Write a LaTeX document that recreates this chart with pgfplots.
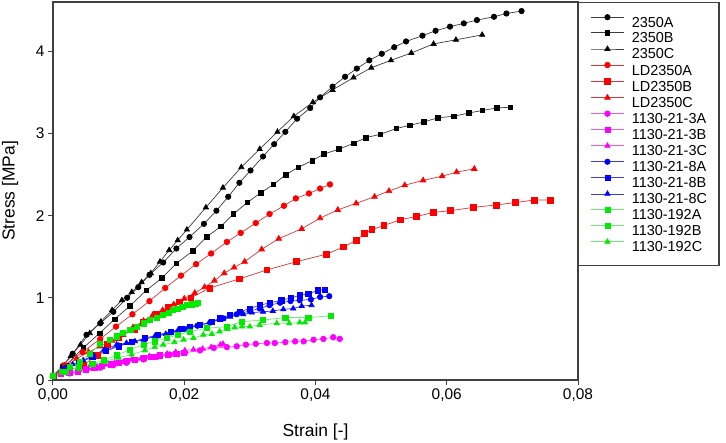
\documentclass[border=0pt]{standalone}
\usepackage{fontspec}
\setmainfont{Liberation Sans}
\usepackage{pgfplots}
\pgfplotsset{compat=1.18}
\definecolor{lnK}{RGB}{60,60,60}
\definecolor{lnR}{RGB}{215,55,55}
\definecolor{lnM}{RGB}{235,90,235}
\definecolor{lnB}{RGB}{60,60,210}
\definecolor{lnG}{RGB}{110,235,110}
\definecolor{mM}{RGB}{255,0,255}
\definecolor{mG}{RGB}{0,235,0}
\begin{document}
\begin{tikzpicture}
\begin{axis}[
  at={(0,0)}, anchor=south west,
  scale only axis, width=525bp, height=378bp,
  xmin=0, xmax=0.08, ymin=0, ymax=4.6,
  xtick={0,0.02,0.04,0.06,0.08},
  ytick={0,1,2,3,4},
  scaled x ticks=false, scaled y ticks=false,
  /pgf/number format/assume math mode=true,
  xticklabel style={/pgf/number format/.cd, fixed, fixed zerofill, precision=2, use comma, assume math mode=true},
  tick align=outside, tick pos=left,
  major tick length=5bp,
  axis line style={line width=1.2bp, black!75},
  every tick/.style={line width=1bp, black!75},
  ticklabel style={font=\fontsize{15.5}{18}\selectfont},
  xlabel={Strain [-]}, ylabel={Stress [MPa]},
  label style={font=\fontsize{17.5}{20}\selectfont},
  xlabel style={at={(axis description cs:0.5,-0.1376)}, anchor=center},
  ylabel style={at={(axis description cs:-0.0819,0.5)}, anchor=center, rotate=0},
  legend style={at={(1,1)}, anchor=north west, draw=black!75, line width=1.2bp,
    inner xsep=12bp, inner ysep=11.9bp, row sep=1.4bp,
    font=\fontsize{14.5}{17}\selectfont,
    nodes={inner sep=0pt, text height=11.4bp, text depth=1.9bp},
    /tikz/every even column/.append style={column sep=0bp},
    /tikz/every odd column/.append style={column sep=7.5bp}},
  legend cell align=left,
  legend image code/.code={\draw[mark repeat=2,mark phase=2,#1] plot coordinates {(0bp,5.2bp) (16.5bp,5.2bp) (33bp,5.2bp)};},
]
% 2350A
\addplot[color=lnK, line width=0.7bp, mark=*, mark size=2.7bp, mark options={solid, fill=black, draw=black}] coordinates {
(0,0.05)(0.0015,0.17)(0.0030,0.32)(0.0051,0.55)(0.0072,0.69)(0.0092,0.83)(0.0113,1.00)(0.0130,1.13)(0.0147,1.28)(0.0168,1.43)(0.0188,1.60)(0.0208,1.74)(0.0230,1.90)(0.0249,2.06)(0.0267,2.23)(0.0284,2.40)(0.0301,2.55)(0.0320,2.72)(0.0337,2.87)(0.0354,3.02)(0.0372,3.18)(0.0392,3.31)(0.0407,3.44)(0.0426,3.57)(0.0445,3.69)(0.0463,3.79)(0.0482,3.89)(0.0501,3.97)(0.0520,4.05)(0.0538,4.12)(0.0563,4.19)(0.0583,4.25)(0.0605,4.30)(0.0626,4.34)(0.0646,4.38)(0.0672,4.42)(0.0691,4.46)(0.0714,4.49)};
\addlegendentry{2350A}
% 2350B
\addplot[color=lnK, line width=0.7bp, mark=square*, mark size=2.3bp, mark options={solid, fill=black, draw=black}] coordinates {
(0,0.05)(0.0020,0.18)(0.0046,0.39)(0.0071,0.57)(0.0094,0.74)(0.0117,0.90)(0.0142,1.09)(0.0166,1.24)(0.0188,1.42)(0.0213,1.57)(0.0234,1.74)(0.0256,1.87)(0.0275,2.02)(0.0296,2.16)(0.0317,2.28)(0.0336,2.38)(0.0355,2.50)(0.0374,2.59)(0.0395,2.67)(0.0413,2.75)(0.0436,2.81)(0.0458,2.88)(0.0477,2.95)(0.0499,2.99)(0.0523,3.06)(0.0544,3.10)(0.0565,3.14)(0.0586,3.19)(0.0611,3.21)(0.0634,3.25)(0.0654,3.28)(0.0676,3.31)(0.0697,3.32)};
\addlegendentry{2350B}
% 2350C
\addplot[color=lnK, line width=0.7bp, mark=triangle*, mark size=3bp, mark options={solid, fill=black, draw=black}] coordinates {
(0,0.05)(0.0015,0.17)(0.0027,0.29)(0.0042,0.43)(0.0056,0.57)(0.0073,0.71)(0.0090,0.85)(0.0105,0.97)(0.0120,1.07)(0.0135,1.19)(0.0149,1.30)(0.0163,1.44)(0.0177,1.58)(0.0190,1.70)(0.0204,1.83)(0.0233,2.10)(0.0259,2.34)(0.0287,2.59)(0.0315,2.81)(0.0342,3.02)(0.0367,3.21)(0.0396,3.38)(0.0426,3.53)(0.0458,3.68)(0.0485,3.80)(0.0515,3.89)(0.0546,3.98)(0.0580,4.09)(0.0614,4.14)(0.0654,4.20)};
\addlegendentry{2350C}
% LD2350A
\addplot[color=lnR, line width=0.7bp, mark=*, mark size=2.8bp, mark options={solid, fill=red, draw=red}] coordinates {
(0,0.05)(0.0018,0.18)(0.0045,0.34)(0.0072,0.50)(0.0096,0.65)(0.0121,0.80)(0.0147,0.96)(0.0171,1.12)(0.0195,1.27)(0.0218,1.41)(0.0241,1.54)(0.0265,1.68)(0.0286,1.79)(0.0309,1.91)(0.0330,2.02)(0.0352,2.12)(0.0370,2.21)(0.0390,2.27)(0.0407,2.33)(0.0422,2.38)};
\addlegendentry{LD2350A}
% LD2350B
\addplot[color=lnR, line width=0.7bp, mark=square*, mark size=2.9bp, mark options={solid, fill=red, draw=red}] coordinates {
(0,0.05)(0.0025,0.12)(0.0046,0.18)(0.0067,0.30)(0.0083,0.43)(0.0100,0.52)(0.0124,0.62)(0.0138,0.70)(0.0157,0.80)(0.0176,0.88)(0.0192,0.95)(0.0210,1.00)(0.0239,1.12)(0.0284,1.23)(0.0326,1.34)(0.0371,1.44)(0.0416,1.53)(0.0443,1.62)(0.0462,1.70)(0.0475,1.78)(0.0486,1.83)(0.0504,1.88)(0.0529,1.95)(0.0554,1.99)(0.0580,2.04)(0.0605,2.06)(0.0640,2.10)(0.0675,2.13)(0.0705,2.16)(0.0733,2.19)(0.0758,2.19)};
\addlegendentry{LD2350B}
% LD2350C
\addplot[color=lnR, line width=0.7bp, mark=triangle*, mark size=3.2bp, mark options={solid, fill=red, draw=red}] coordinates {
(0,0.05)(0.0018,0.16)(0.0036,0.26)(0.0054,0.34)(0.0072,0.41)(0.0090,0.48)(0.0107,0.55)(0.0122,0.64)(0.0138,0.72)(0.0152,0.79)(0.0167,0.85)(0.0184,0.92)(0.0200,0.99)(0.0216,1.06)(0.0231,1.13)(0.0246,1.21)(0.0261,1.30)(0.0276,1.37)(0.0292,1.44)(0.0318,1.59)(0.0344,1.72)(0.0379,1.84)(0.0407,1.97)(0.0434,2.07)(0.0462,2.15)(0.0490,2.23)(0.0512,2.30)(0.0536,2.37)(0.0564,2.43)(0.0593,2.48)(0.0615,2.53)(0.0642,2.57)};
\addlegendentry{LD2350C}
% 1130-21-3A
\addplot[color=lnM, line width=0.7bp, mark=*, mark size=2.8bp, mark options={solid, fill=mM, draw=mM}] coordinates {
(0,0.05)(0.0025,0.08)(0.0051,0.12)(0.0072,0.15)(0.0092,0.18)(0.0112,0.21)(0.0138,0.25)(0.0158,0.28)(0.0178,0.31)(0.0201,0.33)(0.0224,0.36)(0.0245,0.39)(0.0265,0.40)(0.0280,0.41)(0.0294,0.43)(0.0309,0.44)(0.0326,0.45)(0.0338,0.45)(0.0354,0.46)(0.0369,0.47)(0.0382,0.47)(0.0397,0.49)(0.0412,0.50)(0.0427,0.52)(0.0437,0.50)};
\addlegendentry{1130-21-3A}
% 1130-21-3B
\addplot[color=lnM, line width=0.7bp, mark=square*, mark size=2.6bp, mark options={solid, fill=mM, draw=mM}] coordinates {
(0,0.05)(0.0012,0.07)(0.0025,0.09)(0.0038,0.10)(0.0050,0.13)(0.0063,0.15)(0.0075,0.17)(0.0088,0.19)(0.0100,0.21)(0.0113,0.23)(0.0125,0.25)(0.0138,0.27)(0.0150,0.28)(0.0163,0.30)(0.0175,0.31)(0.0188,0.32)(0.0200,0.33)};
\addlegendentry{1130-21-3B}
% 1130-21-3C
\addplot[color=lnM, line width=0.7bp, mark=triangle*, mark size=3bp, mark options={solid, fill=mM, draw=mM}] coordinates {
(0,0.05)(0.0013,0.08)(0.0027,0.10)(0.0040,0.12)(0.0054,0.14)(0.0067,0.16)(0.0080,0.19)(0.0094,0.21)(0.0107,0.22)(0.0120,0.25)(0.0134,0.26)(0.0147,0.29)(0.0160,0.30)(0.0174,0.32)(0.0187,0.34)(0.0201,0.36)(0.0214,0.37)(0.0228,0.38)(0.0241,0.40)(0.0255,0.43)(0.0259,0.44)};
\addlegendentry{1130-21-3C}
% 1130-21-8A
\addplot[color=lnB, line width=0.7bp, mark=*, mark size=2.7bp, mark options={solid, fill=blue, draw=blue}] coordinates {
(0,0.05)(0.0020,0.15)(0.0040,0.22)(0.0060,0.29)(0.0080,0.36)(0.0100,0.42)(0.0120,0.46)(0.0140,0.50)(0.0160,0.54)(0.0180,0.58)(0.0200,0.62)(0.0220,0.66)(0.0240,0.70)(0.0260,0.75)(0.0280,0.80)(0.0300,0.84)(0.0315,0.87)(0.0330,0.91)(0.0346,0.94)(0.0362,0.96)(0.0376,0.97)(0.0393,0.98)(0.0407,1.01)(0.0421,1.02)};
\addlegendentry{1130-21-8A}
% 1130-21-8B
\addplot[color=lnB, line width=0.7bp, mark=square*, mark size=2.6bp, mark options={solid, fill=blue, draw=blue}] coordinates {
(0,0.05)(0.0020,0.14)(0.0040,0.21)(0.0060,0.28)(0.0080,0.35)(0.0100,0.41)(0.0120,0.46)(0.0140,0.51)(0.0160,0.55)(0.0180,0.59)(0.0195,0.62)(0.0209,0.65)(0.0224,0.67)(0.0242,0.71)(0.0254,0.75)(0.0269,0.79)(0.0285,0.83)(0.0300,0.87)(0.0315,0.91)(0.0331,0.94)(0.0348,0.97)(0.0363,1.00)(0.0376,1.03)(0.0389,1.05)(0.0404,1.09)(0.0414,1.10)};
\addlegendentry{1130-21-8B}
% 1130-21-8C
\addplot[color=lnB, line width=0.7bp, mark=triangle*, mark size=3bp, mark options={solid, fill=blue, draw=blue}] coordinates {
(0,0.05)(0.0015,0.13)(0.0030,0.19)(0.0046,0.24)(0.0062,0.30)(0.0078,0.37)(0.0097,0.43)(0.0112,0.45)(0.0125,0.47)(0.0138,0.49)(0.0155,0.53)(0.0172,0.56)(0.0190,0.60)(0.0205,0.63)(0.0222,0.66)(0.0238,0.70)(0.0254,0.74)(0.0270,0.77)(0.0290,0.80)(0.0303,0.82)(0.0320,0.83)(0.0335,0.84)(0.0351,0.86)(0.0366,0.87)(0.0379,0.90)(0.0394,0.91)};
\addlegendentry{1130-21-8C}
% 1130-192A
\addplot[color=lnG, line width=0.7bp, mark=square*, mark size=2.6bp, mark options={solid, fill=mG, draw=mG}] coordinates {
(0,0.05)(0.0013,0.10)(0.0026,0.16)(0.0041,0.22)(0.0056,0.32)(0.0072,0.44)(0.0087,0.49)(0.0097,0.53)(0.0107,0.57)(0.0118,0.61)(0.0128,0.65)(0.0138,0.69)(0.0148,0.73)(0.0158,0.76)(0.0168,0.79)(0.0176,0.82)(0.0183,0.85)(0.0190,0.87)(0.0197,0.89)(0.0204,0.91)(0.0212,0.92)(0.0217,0.93)(0.0221,0.94)};
\addlegendentry{1130-192A}
% 1130-192B
\addplot[color=lnG, line width=0.7bp, mark=square*, mark size=2.6bp, mark options={solid, fill=mG, draw=mG}] coordinates {
(0,0.05)(0.0020,0.10)(0.0040,0.16)(0.0060,0.20)(0.0077,0.24)(0.0097,0.30)(0.0117,0.37)(0.0138,0.43)(0.0155,0.47)(0.0173,0.51)(0.0190,0.55)(0.0209,0.59)(0.0234,0.63)(0.0265,0.65)(0.0288,0.71)(0.0320,0.73)(0.0354,0.76)(0.0389,0.76)(0.0423,0.78)};
\addlegendentry{1130-192B}
% 1130-192C
\addplot[color=lnG, line width=0.7bp, mark=triangle*, mark size=3bp, mark options={solid, fill=mG, draw=mG}] coordinates {
(0,0.05)(0.0020,0.09)(0.0040,0.13)(0.0060,0.18)(0.0080,0.23)(0.0100,0.27)(0.0120,0.31)(0.0140,0.36)(0.0155,0.40)(0.0168,0.43)(0.0185,0.46)(0.0199,0.49)(0.0214,0.51)(0.0229,0.55)(0.0242,0.56)(0.0254,0.59)(0.0266,0.62)(0.0277,0.64)(0.0288,0.65)(0.0300,0.65)(0.0315,0.67)(0.0341,0.69)(0.0360,0.69)(0.0376,0.70)(0.0384,0.70)};
\addlegendentry{1130-192C}
\end{axis}
\pgfresetboundingbox
\path[use as bounding box] (-53bp,-63bp) rectangle (673bp,380bp);
\end{tikzpicture}
\end{document}
